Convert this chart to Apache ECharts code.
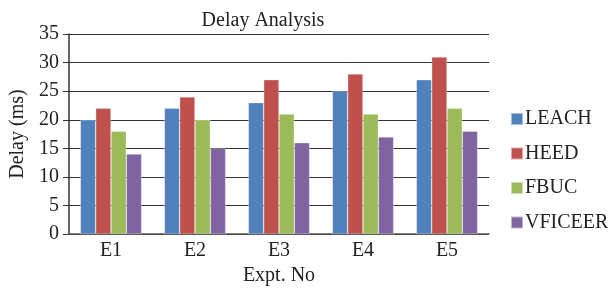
<!DOCTYPE html>
<html lang="en">
	<head>
		<meta charset="UTF-8">
		<title>Delay Analysis</title>
	</head>
	<style>
		html, body { margin: 0; padding: 0; background: #fff; }
		#chart { width: 608px; height: 291px; }
	</style>
	<body>
		<div id="chart"></div>
	</body>
	<script type="text/javascript" src="https://cdn.jsdelivr.net/npm/echarts@6/dist/echarts.min.js"></script>
	<script>
		var categories = ['E1', 'E2', 'E3', 'E4', 'E5'];
		var seriesNames = ['LEACH', 'HEED', 'FBUC', 'VFICEER'];
		var leach = [20, 22, 23, 25, 27];
		var heed = [22, 24, 27, 28, 31];
		var fbuc = [18, 20, 21, 21, 22];
		var vficeer = [14, 15, 16, 17, 18];
		var colors = ['#4f81bd', '#c0504d', '#9bbb59', '#8064a2'];

		var font = 'Liberation Serif';
		var values = [leach, heed, fbuc, vficeer];

		var series = [];
		for (var i = 0; i < seriesNames.length; i++) {
			series.push({
				name: seriesNames[i],
				type: 'bar',
				data: values[i],
				barGap: '0%',
				barCategoryGap: '27%',
				itemStyle: { color: colors[i], borderColor: 'rgba(255,255,255,0.5)', borderWidth: 0.6 }
			});
		}

		var myChart = echarts.init(document.getElementById('chart'));
		var option = {
			animation: false,
			color: colors,
			textStyle: { fontFamily: font, color: '#222' },
			title: {
				text: 'Delay Analysis',
				left: 258,
				textAlign: 'center',
				top: 6,
				textStyle: { fontFamily: font, fontSize: 20, fontWeight: 'normal', color: '#222' }
			},
			legend: {
				orient: 'vertical',
				left: 505,
				top: 104,
				itemWidth: 12,
				itemHeight: 12,
				itemGap: 14.5,
				icon: 'rect',
				textStyle: { fontFamily: font, fontSize: 20, color: '#222', padding: [0, 0, 0, -3] },
				data: seriesNames
			},
			grid: { left: 69, top: 34, width: 420, height: 201 },
			xAxis: {
				type: 'category',
				data: categories,
				name: 'Expt. No',
				nameLocation: 'middle',
				nameGap: 31,
				nameTextStyle: { fontFamily: font, fontSize: 20, color: '#222' },
				axisLine: { lineStyle: { color: '#555', width: 1.5 } },
				axisTick: { show: false },
				axisLabel: { fontFamily: font, fontSize: 20, color: '#222', margin: 7 }
			},
			yAxis: {
				type: 'value',
				min: 0,
				max: 35,
				interval: 5,
				name: 'Delay (ms)',
				nameLocation: 'middle',
				nameGap: 38,
				nameTextStyle: { fontFamily: font, fontSize: 20, color: '#222' },
				axisLine: { show: true, lineStyle: { color: '#333', width: 1.5 } },
				axisTick: { show: true, length: 6, lineStyle: { color: '#333' } },
				axisLabel: { fontFamily: font, fontSize: 20, color: '#222', margin: 10 },
				splitLine: { lineStyle: { color: '#333', width: 1.2 } }
			},
			series: series
		};
		myChart.setOption(option);
	</script>
</html>
